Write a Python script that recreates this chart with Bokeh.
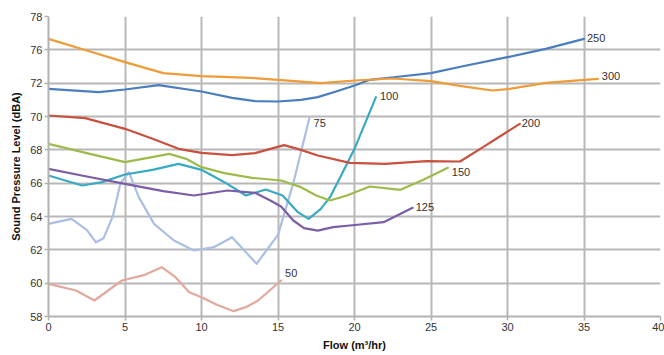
from bokeh.plotting import figure
from bokeh.models import ColumnDataSource, FixedTicker, Range1d
from bokeh.core.properties import value
from bokeh.embed import file_html
from bokeh.resources import INLINE

# ---- data (flow m3/hr, sound pressure level in plotted axis units) ----
series_names = ["50", "75", "100", "125", "150", "200", "250", "300"]

flow_50 = [0, 1.8, 3.0, 3.9, 4.8, 6.3, 7.4, 8.3, 9.2, 10.0, 11.0, 12.1, 12.9, 13.7, 15.2]
spl_50 = [59.96, 59.56, 58.96, 59.56, 60.16, 60.5, 60.96, 60.36, 59.46, 59.16, 58.7, 58.32, 58.56, 58.96, 60.16]

flow_75 = [0, 1.5, 2.5, 3.1, 3.6, 4.2, 4.7, 5.25, 5.9, 6.9, 8.2, 9.5, 10.8, 12.0, 12.8, 13.6, 15.0, 16.0, 17.06]
spl_75 = [63.56, 63.86, 63.2, 62.45, 62.7, 64.0, 65.98, 66.66, 65.16, 63.56, 62.56, 61.96, 62.16, 62.76, 61.96, 61.16, 62.9, 66.0, 69.94]

flow_100 = [0, 1.1, 2.2, 3.5, 5, 6.8, 8.5, 10, 11.5, 12.9, 14.2, 15.3, 16.3, 17, 17.8, 18.4, 19.2, 20, 21.4]
spl_100 = [66.46, 66.16, 65.86, 66.06, 66.52, 66.8, 67.16, 66.8, 66.06, 65.26, 65.62, 65.26, 64.26, 63.86, 64.46, 65.16, 66.6, 68.06, 71.16]

flow_125 = [0, 2.5, 5, 7.5, 9.5, 11.7, 13.5, 14.5, 15.2, 16.0, 16.7, 17.6, 18.6, 19.7, 21.9, 23.8]
spl_125 = [66.86, 66.4, 65.96, 65.52, 65.26, 65.56, 65.42, 64.96, 64.6, 63.76, 63.3, 63.15, 63.36, 63.46, 63.66, 64.52]

flow_150 = [0, 2.5, 5, 6.5, 7.9, 9, 10, 11.5, 13.3, 15.2, 16.5, 17.5, 18.4, 19.5, 21, 23, 24.5, 26.1]
spl_150 = [68.36, 67.8, 67.26, 67.52, 67.76, 67.46, 66.96, 66.6, 66.32, 66.16, 65.76, 65.26, 64.96, 65.26, 65.8, 65.6, 66.2, 66.92]

flow_200 = [0, 2.4, 5, 6.8, 8.5, 10, 12, 13.5, 15.4, 16.5, 17.6, 19.7, 22, 24.7, 26.9, 28.4, 29.6, 30.8]
spl_200 = [70.06, 69.9, 69.26, 68.66, 68.06, 67.82, 67.68, 67.8, 68.28, 68.0, 67.66, 67.22, 67.16, 67.32, 67.3, 68.16, 68.86, 69.56]

flow_250 = [0, 3.3, 5, 7.2, 10, 12, 13.5, 15, 16.5, 17.6, 19, 20, 21, 23, 25, 27, 30, 32.5, 35]
spl_250 = [71.66, 71.46, 71.62, 71.88, 71.5, 71.12, 70.92, 70.9, 71.0, 71.16, 71.56, 71.86, 72.2, 72.4, 72.6, 73.0, 73.56, 74.06, 74.66]

flow_300 = [0, 2.5, 5, 7.5, 10, 13.2, 15, 17.8, 20, 22.5, 25, 27, 29, 30, 32.5, 35.9]
spl_300 = [74.66, 73.96, 73.26, 72.6, 72.42, 72.32, 72.2, 72.0, 72.16, 72.28, 72.12, 71.82, 71.56, 71.64, 72.02, 72.26]

x_ticks = [0, 5, 10, 15, 20, 25, 30, 35, 40]
y_ticks = [58, 60, 62, 64, 66, 68, 70, 72, 74, 76]
y_tick_labels = ["58", "60", "62", "64", "66", "68", "70", "72", "76", "78"]

# ---- styles ----
colors = {"50": "#e3a89c", "75": "#aabfe3", "100": "#3aa9c4", "125": "#7a5ea7",
          "150": "#9dbb4a", "200": "#c9503f", "250": "#4a7ebf", "300": "#ef9b37"}
label_dx = {"50": 4, "75": 4, "100": 4, "125": 3, "150": 4, "200": 2, "250": 3, "300": 4}
label_dy = {"50": -8, "75": 5, "100": -1, "125": -1, "150": 4, "200": -1, "250": -1, "300": -3}

data = {
    "50": (flow_50, spl_50), "75": (flow_75, spl_75), "100": (flow_100, spl_100),
    "125": (flow_125, spl_125), "150": (flow_150, spl_150), "200": (flow_200, spl_200),
    "250": (flow_250, spl_250), "300": (flow_300, spl_300),
}

FONT = "Liberation Sans"

p = figure(width=664, height=355, output_backend="svg", toolbar_location=None,
           x_range=Range1d(0, 40), y_range=Range1d(58, 76),
           min_border_left=48, min_border_right=4, min_border_top=16, min_border_bottom=39)
p.outline_line_color = None
p.background_fill_color = "white"
p.border_fill_color = "white"

for ax in (p.xaxis[0], p.yaxis[0]):
    ax.axis_line_color = "#b2b2b2"
    ax.axis_line_width = 2
    ax.major_tick_line_color = "#b2b2b2"
    ax.major_tick_line_width = 1.5
    ax.major_tick_out = 4
    ax.major_tick_in = 0
    ax.minor_tick_line_color = None
    ax.major_label_text_font = FONT
    ax.major_label_text_font_size = "11px"
    ax.major_label_text_color = "#333333"
    ax.major_label_standoff = 2
    ax.axis_label_text_font = FONT
    ax.axis_label_text_font_size = "11px"
    ax.axis_label_text_font_style = "bold"
    ax.axis_label_text_color = "#111111"
    ax.axis_label_standoff = 5

p.xaxis.ticker = FixedTicker(ticks=x_ticks)
p.yaxis.ticker = FixedTicker(ticks=y_ticks)
p.yaxis.major_label_overrides = {t: l for t, l in zip(y_ticks, y_tick_labels)}
p.xaxis.axis_label = "Flow (m³/hr)"
p.yaxis.axis_label = "Sound Pressure Level (dBA)"

p.xgrid.grid_line_color = "#b8b8b8"
p.ygrid.grid_line_color = "#b8b8b8"
p.xgrid.grid_line_width = 2
p.ygrid.grid_line_width = 2

for name in series_names:
    fx, fy = data[name]
    p.line(fx, fy, line_color=colors[name], line_width=2.2, line_join="round", line_cap="round")

lab_src = ColumnDataSource(dict(
    x=[data[n][0][-1] for n in series_names],
    y=[data[n][1][-1] for n in series_names],
    t=series_names,
    dx=[label_dx[n] for n in series_names],
    dy=[label_dy[n] for n in series_names],
))
p.text(x="x", y="y", text="t", x_offset="dx", y_offset="dy", source=lab_src,
       text_font=value(FONT), text_font_size="11px", text_color="#333333",
       text_baseline="middle", text_align="left")

open("out.html", "w").write(file_html(p, INLINE))
